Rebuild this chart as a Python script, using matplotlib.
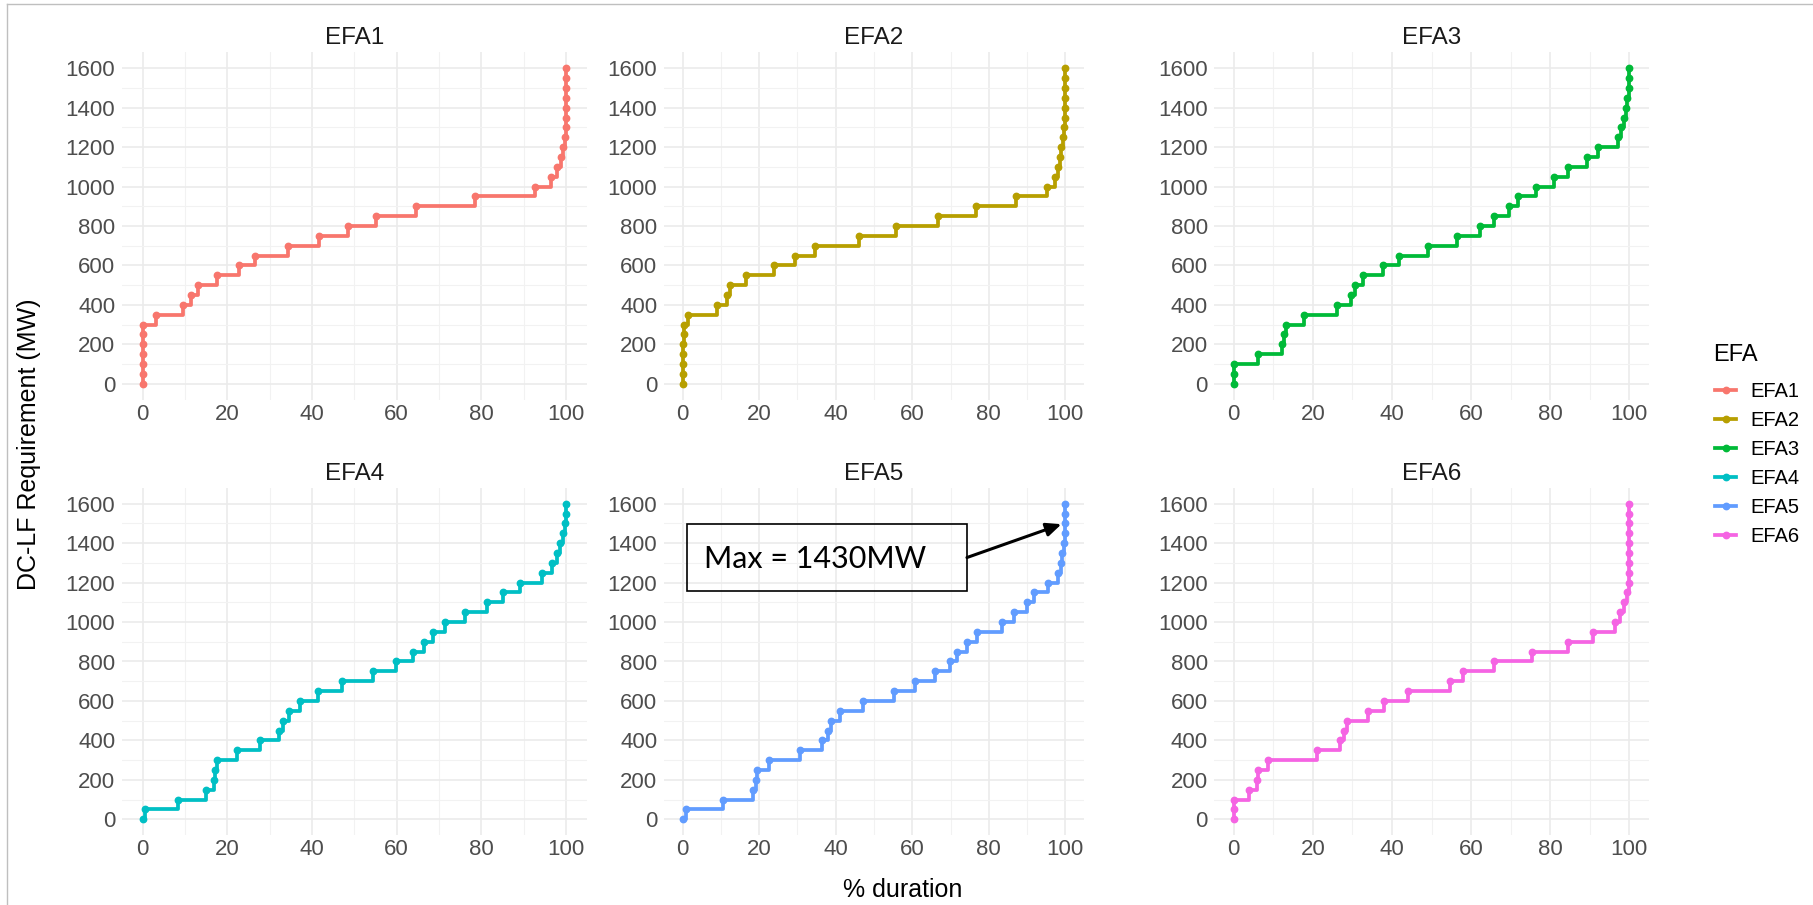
import matplotlib
matplotlib.use("Agg")
import matplotlib.pyplot as plt
from matplotlib.lines import Line2D
from matplotlib.patches import Rectangle

# MW requirement levels (y) and % duration for each EFA block (x)
mw_levels = [0, 50, 100, 150, 200, 250, 300, 350, 400, 450, 500, 550, 600, 650, 700, 750, 800,
             850, 900, 950, 1000, 1050, 1100, 1150, 1200, 1250, 1300, 1350, 1400, 1450, 1500, 1550, 1600]

efa1 = [0, 0, 0, 0, 0, 0, 0.1, 3.1, 9.6, 11.3, 13.0, 17.6, 22.8, 26.5, 34.4, 41.7, 48.6,
        55.0, 64.6, 78.5, 92.6, 96.4, 97.8, 98.7, 99.4, 99.8, 99.9, 99.9, 100, 100, 100, 100, 100]
efa2 = [0, 0, 0, 0.05, 0.1, 0.3, 0.3, 1.4, 8.9, 11.6, 12.4, 16.5, 23.9, 29.4, 34.7, 46.2, 55.7,
        66.6, 76.6, 87.1, 95.2, 97.2, 98.2, 98.6, 99.0, 99.5, 99.6, 99.8, 99.9, 99.9, 100, 100, 100]
efa3 = [0, 0.05, 0.2, 6.2, 12.1, 12.6, 13.2, 17.8, 26.0, 29.6, 30.6, 32.8, 37.8, 41.9, 49.1, 56.4, 62.3,
        65.9, 69.6, 71.9, 76.5, 80.9, 84.4, 89.3, 92.2, 97.2, 98.0, 98.6, 99.1, 99.5, 99.8, 99.9, 100]
efa4 = [0, 0.55, 8.3, 15.0, 16.9, 17.0, 17.6, 22.2, 27.8, 32.2, 33.2, 34.6, 37.2, 41.4, 47.2, 54.4, 59.8,
        63.9, 66.5, 68.6, 71.5, 76.1, 81.3, 85.1, 89.1, 94.3, 96.7, 97.8, 98.6, 99.2, 99.8, 99.9, 100]
efa5 = [0, 0.9, 10.5, 18.3, 19.2, 19.4, 22.5, 30.7, 36.4, 37.9, 38.7, 41.2, 47.0, 55.1, 60.8, 66.0, 69.9,
        71.7, 74.2, 76.8, 83.4, 86.6, 90.1, 91.7, 95.6, 98.2, 98.9, 99.2, 99.7, 99.9, 100, 100, 100]
efa6 = [0, 0, 0.1, 3.9, 6.0, 6.1, 8.8, 21.0, 26.9, 27.8, 28.6, 34.0, 38.1, 44.1, 54.6, 58.0, 65.9,
        75.4, 84.4, 90.9, 96.5, 97.6, 98.7, 99.5, 99.8, 99.9, 99.9, 100, 100, 100, 100, 100, 100]

efa_names = ["EFA1", "EFA2", "EFA3", "EFA4", "EFA5", "EFA6"]
efa_data = [efa1, efa2, efa3, efa4, efa5, efa6]
colors = ["#F8766D", "#B79F00", "#00BA38", "#00BFC4", "#619CFF", "#F564E3"]

x_major = [0, 20, 40, 60, 80, 100]
x_minor = [10, 30, 50, 70, 90]
y_major = [0, 200, 400, 600, 800, 1000, 1200, 1400, 1600]
y_minor = [100, 300, 500, 700, 900, 1100, 1300, 1500]

W, H = 1813, 905
plt.rcParams['font.family'] = ['Liberation Sans', 'DejaVu Sans']
fig = plt.figure(figsize=(W / 100, H / 100), dpi=100)

cols = [(121.5, 587.2), (663.6, 1084.4), (1213.9, 1649.1)]
rows = [(52.5, 399.5), (487.9, 835.1)]

lw = 2.7
ms = 4.6
axes = []
for i, (name, xs) in enumerate(zip(efa_names, efa_data)):
    l, r = cols[i % 3]
    t, b = rows[i // 3]
    ax = fig.add_axes([l / W, 1 - b / H, (r - l) / W, (b - t) / H])
    ax.step(xs, mw_levels, where='post', color=colors[i], lw=lw, zorder=3)
    ax.plot(xs, mw_levels, 'o', color=colors[i], ms=ms, zorder=4)
    ax.set_xlim(-5, 105)
    ax.set_ylim(-80, 1680)
    ax.set_xticks(x_major)
    ax.set_xticks(x_minor, minor=True)
    ax.set_yticks(y_major)
    ax.set_yticks(y_minor, minor=True)
    ax.grid(which='major', color='#EBEBEB', lw=1.2)
    ax.grid(which='minor', color='#F2F2F2', lw=0.8)
    ax.set_axisbelow(True)
    for s in ax.spines.values():
        s.set_visible(False)
    ax.tick_params(which='both', length=0)
    ax.tick_params(axis='x', pad=3, labelsize=16, labelcolor='#4D4D4D')
    ax.tick_params(axis='y', pad=4.5, labelsize=16, labelcolor='#4D4D4D')
    ax.set_title(name, fontsize=17.5, color='#1A1A1A', pad=6)
    axes.append(ax)

# axis titles
fig.text(29.5 / W, 1 - 444 / H, "DC-LF Requirement (MW)", rotation=90, fontsize=18,
         ha='center', va='center')
fig.text(903 / W, 1 - 890 / H, "% duration", fontsize=18, ha='center', va='center')

# legend (title drawn separately to get the larger gap under it)
fig.text(1713 / W, 1 - 355 / H, "EFA", fontsize=17, ha='left', va='center')
handles = [Line2D([0], [0], color=c, lw=lw, marker='o', ms=ms) for c in colors]
fig.legend(handles, efa_names, loc='upper left',
           bbox_to_anchor=(1715 / W, 1 - 382 / H), frameon=False,
           fontsize=14.5, handlelength=1.05, handletextpad=0.72,
           labelspacing=0.5, borderpad=0, borderaxespad=0)

# annotation on EFA5
ax5 = axes[4]
ax5.add_patch(Rectangle((1.1, 1157), 73.2, 340, fill=False, ec='black', lw=1.2,
                        clip_on=False, zorder=6))
ax5.text(5.6, 1322, "Max = 1430MW", fontsize=22, family='Lato', ha='left', va='center',
         zorder=7)
ax5.annotate("", xy=(99.0, 1496), xytext=(74.3, 1327),
             arrowprops=dict(arrowstyle='-|>,head_length=0.9,head_width=0.4', color='black',
                             lw=2.2, shrinkA=0, shrinkB=0), annotation_clip=False, zorder=7)

# screenshot border (top and left only)
fig.add_artist(Line2D([7 / W, 1], [1 - 4.5 / H, 1 - 4.5 / H], color='#BFBFBF', lw=1))
fig.add_artist(Line2D([7 / W, 7 / W], [0, 1 - 4.5 / H], color='#BFBFBF', lw=1))

fig.savefig("out.png", dpi=100)
